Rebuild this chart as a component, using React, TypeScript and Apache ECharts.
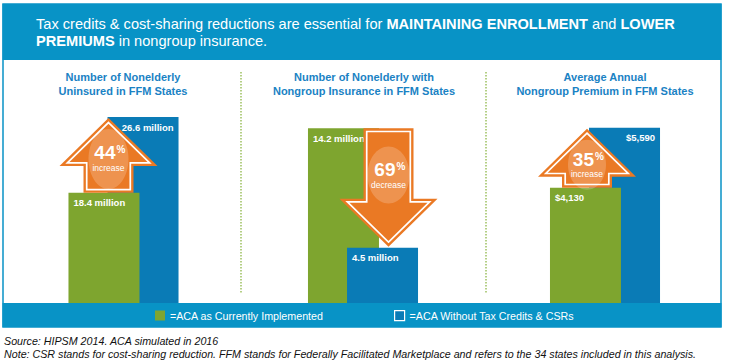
import React, { useEffect, useRef } from 'react';
import * as echarts from 'echarts';

const FONT = "'Liberation Sans', Arial, Helvetica, sans-serif";

// ---------- Data ----------
const panelTitleLine1 = ['Number of Nonelderly', 'Number of Nonelderly with', 'Average Annual'];
const panelTitleLine2 = ['Uninsured in FFM States', 'Nongroup Insurance in FFM States', 'Nongroup Premium in FFM States'];
const currentImplemented = [18.4, 14.2, 4130]; // ACA as currently implemented
const withoutCredits = [26.6, 4.5, 5590]; // ACA without tax credits & CSRs
const valueUnits = ['million', 'million', 'dollars'];
const changePercents = [44, 69, 35];
const changeWords = ['increase', 'decrease', 'increase'];
const legendNames = ['=ACA as Currently Implemented', '=ACA Without Tax Credits & CSRs'];
const headlineText =
  '{n|Tax credits & cost-sharing reductions are essential for }{b|MAINTAINING ENROLLMENT}{n| and }{b|LOWER}\n{b|PREMIUMS}{n| in nongroup insurance.}';
const sourceNotes = [
  'Source: HIPSM 2014. ACA simulated in 2016',
  'Note: CSR stands for cost-sharing reduction. FFM stands for Federally Facilitated Marketplace and refers to the 34 states included in this analysis.',
];

// ---------- Layout / style ----------
const GREEN = '#7ea52f';
const BLUE = '#0a7bb6';
const BAND = '#0893c6';
const ORANGE = '#ea7924';
const TITLE = '#1a82c4';
const GRIDS = [
  { left: 5, width: 237 },
  { left: 241, width: 244 },
  { left: 486, width: 238 },
];
const Y_MIN = [6.45, 0, 1324];
const Y_MAX = [28.45, 16.5, 6264];
const ARROW_DX = [-15, 25.5, -18];
const DECOR = [
  { num: 34.4, word: 49.5, ell: 41, rx: 20, ry: 30 },
  { num: -77, word: -61.6, ell: -71.6, rx: 21, ry: 28.5 },
  { num: 30.7, word: 45.5, ell: 36, rx: 19, ry: 25 },
];

function fmtValue(v: number, unit: string) {
  if (unit === 'dollars') return '$' + v.toLocaleString('en-US');
  return `${v} million`;
}

function insetPolygon(pts: number[][], d: number) {
  const n = pts.length;
  let area = 0;
  for (let i = 0; i < n; i++) {
    const [x1, y1] = pts[i];
    const [x2, y2] = pts[(i + 1) % n];
    area += x1 * y2 - x2 * y1;
  }
  const sgn = area > 0 ? 1 : -1;
  const lines = pts.map((p, i) => {
    const q = pts[(i + 1) % n];
    const dx = q[0] - p[0];
    const dy = q[1] - p[1];
    const L = Math.hypot(dx, dy);
    const nx = (sgn * -dy) / L;
    const ny = (sgn * dx) / L;
    return { px: p[0] + nx * d, py: p[1] + ny * d, dx, dy };
  });
  return pts.map((_, i) => {
    const a = lines[(i - 1 + n) % n];
    const b = lines[i];
    const cr = a.dx * b.dy - a.dy * b.dx;
    const t = ((b.px - a.px) * b.dy - (b.py - a.py) * b.dx) / cr;
    return [a.px + a.dx * t, a.py + a.dy * t];
  });
}

export default function App() {
  const ref = useRef<HTMLDivElement>(null);

  useEffect(() => {
    const chart = echarts.init(ref.current!, null, { renderer: 'svg' });
    const series: any[] = [];
    for (let i = 0; i < 3; i++) {
      const unit = valueUnits[i];
      const lbl = (pos: string) => ({
        show: true,
        position: pos,
        distance: 5,
        color: '#fff',
        fontWeight: 'bold',
        fontSize: 9.5,
        fontFamily: FONT,
        formatter: (p: any) => fmtValue(p.value, unit),
      });
      series.push({
        type: 'bar',
        name: legendNames[0],
        xAxisIndex: i,
        yAxisIndex: i,
        data: [currentImplemented[i]],
        barWidth: 71,
        barGap: '-45%',
        z: i === 1 ? 2 : 3,
        itemStyle: { color: GREEN },
        label: lbl('insideTopLeft'),
        silent: true,
      });
      series.push({
        type: 'bar',
        name: legendNames[1],
        xAxisIndex: i,
        yAxisIndex: i,
        data: [withoutCredits[i]],
        barWidth: 71,
        barGap: '-45%',
        z: i === 1 ? 3 : 2,
        itemStyle: { color: BLUE },
        label: lbl(i === 1 ? 'insideTopLeft' : 'insideTopRight'),
        silent: true,
      });
    }

    const legendCommon = {
      top: 310,
      padding: 0,
      itemWidth: 10,
      itemHeight: 10,
      icon: 'rect',
      selectedMode: false,
      textStyle: { color: '#fff', fontSize: 10.7, fontFamily: FONT },
    };

    chart.setOption({
      animation: false,
      backgroundColor: '#fff',
      grid: GRIDS.map((g) => ({ left: g.left, width: g.width, top: 100, bottom: 60 })),
      xAxis: [0, 1, 2].map((i) => ({ type: 'category', gridIndex: i, data: [panelTitleLine2[i]], show: false })),
      yAxis: [0, 1, 2].map((i) => ({
        type: 'value',
        gridIndex: i,
        min: Y_MIN[i],
        max: Y_MAX[i],
        show: false,
        splitLine: { show: false },
      })),
      legend: [
        { ...legendCommon, left: 155, data: [legendNames[0]] },
        { ...legendCommon, left: 394, data: [legendNames[1]], itemStyle: { borderColor: '#fff', borderWidth: 1.2 } },
      ],
      series,
    });

    const elements: any[] = [];
    // frame, header band, legend band
    elements.push({ type: 'rect', z: 0, shape: { x: 3, y: 4, width: 718, height: 323 }, style: { fill: '#fff', stroke: BAND, lineWidth: 1.5 } });
    elements.push({ type: 'rect', z: 0, shape: { x: 2.5, y: 4, width: 719, height: 56 }, style: { fill: BAND } });
    elements.push({ type: 'rect', z: 0, shape: { x: 2.5, y: 303, width: 719, height: 24 }, style: { fill: BAND } });
    // headline
    elements.push({
      type: 'text',
      z: 10,
      style: {
        text: headlineText,
        x: 36,
        y: 15.5,
        textVerticalAlign: 'top',
        fill: '#fff',
        fontFamily: FONT,
        fontSize: 14.6,
        rich: {
          n: { fill: '#fff', fontSize: 14.6, lineHeight: 17, fontFamily: FONT },
          b: { fill: '#fff', fontSize: 14.6, lineHeight: 17, fontWeight: 'bold', fontFamily: FONT },
        },
      },
    });
    // separators
    [241, 486].forEach((x) =>
      elements.push({
        type: 'line',
        z: 1,
        shape: { x1: x, y1: 72, x2: x, y2: 293 },
        style: { stroke: '#9cc05f', lineWidth: 1.5, lineDash: [1.5, 1.5] },
      })
    );
    // panel titles
    for (let i = 0; i < 3; i++) {
      const cx = GRIDS[i].left + GRIDS[i].width / 2;
      elements.push({
        type: 'text',
        z: 10,
        style: {
          text: panelTitleLine1[i] + '\n' + panelTitleLine2[i],
          x: cx + (i === 0 ? -0.5 : i === 1 ? 1 : 0),
          y: 70,
          textAlign: 'center',
          textVerticalAlign: 'top',
          fontSize: 11,
          fontWeight: 'bold',
          fontFamily: FONT,
          lineHeight: 14,
          fill: TITLE,
        },
      });
    }
    // arrows
    for (let i = 0; i < 3; i++) {
      const cxCat = chart.convertToPixel({ xAxisIndex: i } as any, 0) as number;
      const cx = cxCat + ARROW_DX[i];
      const yGreen = chart.convertToPixel({ yAxisIndex: i } as any, currentImplemented[i]) as number;
      const yBlue = chart.convertToPixel({ yAxisIndex: i } as any, withoutCredits[i]) as number;
      const up = yBlue < yGreen;
      const dir = up ? -1 : 1;
      const tip = yBlue - dir * 1;
      const tail = yGreen;
      const base = tip - dir * 48;
      const W = 49;
      const S = 25;
      const pts = [
        [cx, tip],
        [cx + W, base],
        [cx + S, base],
        [cx + S, tail],
        [cx - S, tail],
        [cx - S, base],
        [cx - W, base],
      ];
      const inner = insetPolygon(pts, 3.2);
      const dec = DECOR[i];
      elements.push({ type: 'polygon', z: 10, shape: { points: pts }, style: { fill: ORANGE } });
      elements.push({
        type: 'ellipse',
        z: 10,
        shape: { cx: cx, cy: tip + dec.ell, rx: dec.rx, ry: dec.ry },
        style: { fill: 'rgba(255,255,255,0.2)' },
      });
      elements.push({ type: 'polygon', z: 10, shape: { points: inner }, style: { fill: 'none', stroke: '#fff', lineWidth: 1.7 } });
      elements.push({
        type: 'text',
        z: 10,
        style: {
          text: String(changePercents[i]),
          x: cx + 7,
          y: tip + dec.num,
          textAlign: 'right',
          textVerticalAlign: 'middle',
          fontSize: 19,
          lineHeight: 15,
          fontWeight: 'bold',
          fontFamily: FONT,
          fill: '#fff',
        },
      });
      elements.push({
        type: 'text',
        z: 10,
        style: {
          text: '%',
          x: cx + 8,
          y: tip + dec.num - 3,
          textAlign: 'left',
          textVerticalAlign: 'middle',
          fontSize: 10,
          lineHeight: 9,
          fontWeight: 'bold',
          fontFamily: FONT,
          fill: '#fff',
        },
      });
      elements.push({
        type: 'text',
        z: 10,
        style: {
          text: changeWords[i],
          x: cx,
          y: tip + dec.word,
          textAlign: 'center',
          textVerticalAlign: 'middle',
          fontSize: 8.5,
          lineHeight: 9,
          fontFamily: FONT,
          fill: '#fff',
        },
      });
    }
    // source notes
    sourceNotes.forEach((t, k) =>
      elements.push({
        type: 'text',
        z: 10,
        style: {
          text: t,
          x: 4,
          y: 341 + k * 12.5,
          textVerticalAlign: 'middle',
          fontSize: 10.7,
          fontStyle: 'italic',
          fontFamily: FONT,
          fill: '#111',
        },
      })
    );

    chart.setOption({ graphic: { elements } });

    return () => chart.dispose();
  }, []);

  return (
    <div
      ref={ref}
      style={{ position: 'fixed', left: 0, top: 0, width: 729, height: 363, background: '#fff' }}
    />
  );
}
